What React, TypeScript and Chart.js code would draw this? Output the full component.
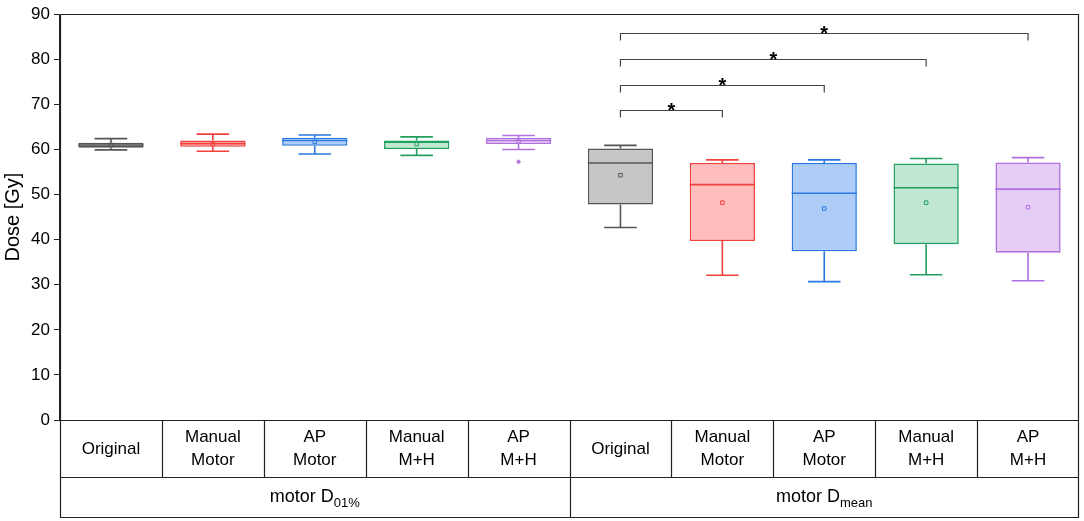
import React, { useEffect, useRef } from "react";
import { Chart, registerables } from "chart.js";

Chart.register(...registerables);

const categories = ["Original", "Manual\nMotor", "AP\nMotor", "Manual\nM+H", "AP\nM+H", "Original", "Manual\nMotor", "AP\nMotor", "Manual\nM+H", "AP\nM+H"];
const groups = [
  { main: "motor D", sub: "01%", from: 0, to: 4 },
  { main: "motor D", sub: "mean", from: 5, to: 9 },
];
const whiskerMin = [59.9, 59.6, 59.0, 58.7, 60.0, 42.7, 32.1, 30.7, 32.2, 30.9];
const q1 = [60.4, 60.6, 60.8, 60.1, 61.2, 47.8, 39.7, 37.4, 39.0, 37.1];
const median = [61.0, 61.3, 62.0, 61.6, 62.0, 57.0, 52.2, 50.3, 51.5, 51.2];
const q3 = [61.5, 62.0, 62.6, 62.0, 62.6, 60.2, 57.0, 57.0, 56.9, 57.1];
const whiskerMax = [62.4, 63.4, 63.2, 62.8, 63.1, 60.9, 57.7, 57.7, 58.0, 58.2];
const mean = [61.0, 61.2, 61.7, 61.2, 61.8, 54.3, 48.2, 46.9, 48.2, 47.2];
const outliers = [null, null, null, null, 57.3, null, null, null, null, null];
const bracketFrom = [5, 5, 5, 5];
const bracketTo = [6, 7, 8, 9];
const bracketY = [68.7, 74.4, 80.1, 85.9];
const bracketLabel = ["*", "*", "*", "*"];
const yTicksMax = 90;

const strokeColors = ["#555555", "#f0413c", "#2a78e0", "#23a060", "#b070e0", "#555555", "#f0413c", "#2a78e0", "#23a060", "#b070e0"];
const fillColors = ["#c6c6c6", "#ffbdbd", "#aecdf6", "#c0e8d2", "#e6cdf5", "#c6c6c6", "#ffbdbd", "#aecdf6", "#c0e8d2", "#e6cdf5"];

const FONT = "'Liberation Sans', Arial, sans-serif";

const boxPlugin = {
  id: "boxExtras",
  afterDatasetDraw(chart: any, args: any) {
    const meta = args.meta;
    if (meta.type !== "bar") return;
    const ctx = chart.ctx;
    const y = chart.scales.y;
    ctx.save();
    meta.data.forEach((el: any, i: number) => {
      const cx = el.x;
      const w = el.width;
      ctx.strokeStyle = strokeColors[i];
      ctx.lineWidth = 1.6;
      const ym = y.getPixelForValue(median[i]);
      ctx.beginPath();
      ctx.moveTo(cx - w / 2, ym);
      ctx.lineTo(cx + w / 2, ym);
      ctx.stroke();
      const yq3 = y.getPixelForValue(q3[i]);
      const yq1 = y.getPixelForValue(q1[i]);
      const ymax = y.getPixelForValue(whiskerMax[i]);
      const ymin = y.getPixelForValue(whiskerMin[i]);
      ctx.beginPath();
      ctx.moveTo(cx, yq3);
      ctx.lineTo(cx, ymax);
      ctx.moveTo(cx - w / 4, ymax);
      ctx.lineTo(cx + w / 4, ymax);
      ctx.moveTo(cx, yq1);
      ctx.lineTo(cx, ymin);
      ctx.moveTo(cx - w / 4, ymin);
      ctx.lineTo(cx + w / 4, ymin);
      ctx.stroke();
    });
    ctx.restore();
  },
  afterDraw(chart: any) {
    const ctx = chart.ctx;
    const x = chart.scales.x;
    const y = chart.scales.y;
    const area = chart.chartArea;
    const left = Math.round(area.left) + 0.5;
    const right = Math.round(area.right) - 0.5;
    const top = Math.round(area.top) + 0.5;
    const bottom = Math.round(area.bottom) + 0.5;
    const row1 = bottom + 57;
    const row2 = bottom + 97;
    ctx.save();
    // significance brackets
    ctx.strokeStyle = "#444";
    ctx.lineWidth = 1.2;
    ctx.fillStyle = "#000";
    ctx.font = `bold 20px ${FONT}`;
    ctx.textAlign = "center";
    ctx.textBaseline = "alphabetic";
    bracketY.forEach((v, k) => {
      const x1 = x.getPixelForValue(bracketFrom[k]);
      const x2 = x.getPixelForValue(bracketTo[k]);
      const yy = Math.round(y.getPixelForValue(v)) + 0.5;
      ctx.beginPath();
      ctx.moveTo(x1, yy + 7);
      ctx.lineTo(x1, yy);
      ctx.lineTo(x2, yy);
      ctx.lineTo(x2, yy + 7);
      ctx.stroke();
      ctx.fillText(bracketLabel[k], (x1 + x2) / 2, yy + 6);
    });
    // frame + table lines
    ctx.strokeStyle = "#222";
    ctx.lineWidth = 1.2;
    ctx.beginPath();
    ctx.moveTo(left, top);
    ctx.lineTo(right, top);
    ctx.lineTo(right, row2);
    ctx.lineTo(left, row2);
    ctx.lineTo(left, top);
    ctx.moveTo(left, bottom);
    ctx.lineTo(right, bottom);
    ctx.moveTo(left, row1);
    ctx.lineTo(right, row1);
    ctx.stroke();
    ctx.beginPath();
    for (let i = 0; i < categories.length - 1; i++) {
      const xb = Math.round((x.getPixelForValue(i) + x.getPixelForValue(i + 1)) / 2) + 0.5;
      const isGroup = groups.some((g) => g.to === i);
      ctx.moveTo(xb, bottom);
      ctx.lineTo(xb, isGroup ? row2 : row1);
    }
    ctx.stroke();
    // category labels
    ctx.fillStyle = "#000";
    ctx.font = `17px ${FONT}`;
    ctx.textAlign = "center";
    ctx.textBaseline = "middle";
    const mid1 = (bottom + row1) / 2;
    categories.forEach((c, i) => {
      const cx = x.getPixelForValue(i);
      const lines = c.split("\n");
      const lh = 23;
      lines.forEach((ln, j) => {
        ctx.fillText(ln, cx, mid1 + (j - (lines.length - 1) / 2) * lh);
      });
    });
    // group labels
    const mid2 = (row1 + row2) / 2;
    groups.forEach((g) => {
      const lx = g.from === 0 ? area.left : (x.getPixelForValue(g.from - 1) + x.getPixelForValue(g.from)) / 2;
      const rx = g.to === categories.length - 1 ? area.right : (x.getPixelForValue(g.to) + x.getPixelForValue(g.to + 1)) / 2;
      const cx = (lx + rx) / 2;
      ctx.font = `18px ${FONT}`;
      const wMain = ctx.measureText(g.main).width;
      ctx.font = `13px ${FONT}`;
      const wSub = ctx.measureText(g.sub).width;
      const start = cx - (wMain + wSub) / 2;
      ctx.textAlign = "left";
      ctx.textBaseline = "middle";
      ctx.font = `18px ${FONT}`;
      ctx.fillText(g.main, start, mid2);
      ctx.font = `13px ${FONT}`;
      ctx.fillText(g.sub, start + wMain, mid2 + 6);
    });
    ctx.restore();
  },
};

export default function App() {
  const ref = useRef<HTMLCanvasElement>(null);
  useEffect(() => {
    document.body.style.margin = "0";
    const chart = new Chart(ref.current as HTMLCanvasElement, {
      type: "bar",
      data: {
        labels: categories.map((c) => c.replace("\n", " ")),
        datasets: [
          {
            type: "line",
            label: "outliers",
            data: outliers as any,
            showLine: false,
            pointStyle: "rectRot",
            pointRadius: 2.5,
            pointBackgroundColor: strokeColors,
            pointBorderColor: strokeColors,
            pointBorderWidth: 0,
          } as any,
          {
            type: "line",
            label: "mean",
            data: mean,
            showLine: false,
            pointStyle: "rect",
            pointRadius: 2.5,
            pointBackgroundColor: "rgba(0,0,0,0)",
            pointBorderColor: strokeColors,
            pointBorderWidth: 1,
          } as any,
          {
            type: "bar",
            label: "box",
            data: q1.map((v, i) => [v, q3[i]]) as any,
            backgroundColor: fillColors,
            borderColor: strokeColors,
            borderWidth: 1.6,
            borderSkipped: false,
            barPercentage: 0.64,
            categoryPercentage: 1,
          },
        ],
      },
      options: {
        responsive: false,
        animation: false,
        layout: { padding: { top: 12, right: 5, bottom: 101, left: 0 } },
        plugins: { legend: { display: false }, tooltip: { enabled: false } },
        scales: {
          x: { display: false, offset: true },
          y: {
            min: 0,
            max: yTicksMax,
            ticks: { stepSize: 10, color: "#000", font: { family: FONT, size: 17 }, padding: 4 },
            grid: { drawOnChartArea: false, drawTicks: true, tickLength: 6, color: "#222" },
            border: { display: true, color: "#222", width: 1.2 },
            title: { display: true, text: "Dose [Gy]", color: "#000", font: { family: FONT, size: 20 }, padding: { top: 1, bottom: 0 } },
            afterFit: (s: any) => {
              s.width = 60;
            },
          },
        },
      },
      plugins: [boxPlugin],
    });
    return () => chart.destroy();
  }, []);
  return (
    <div style={{ position: "fixed", left: 0, top: 0, width: 1084, height: 521, background: "#fff" }}>
      <canvas ref={ref} width={1084} height={521} style={{ width: 1084, height: 521 }} />
    </div>
  );
}
